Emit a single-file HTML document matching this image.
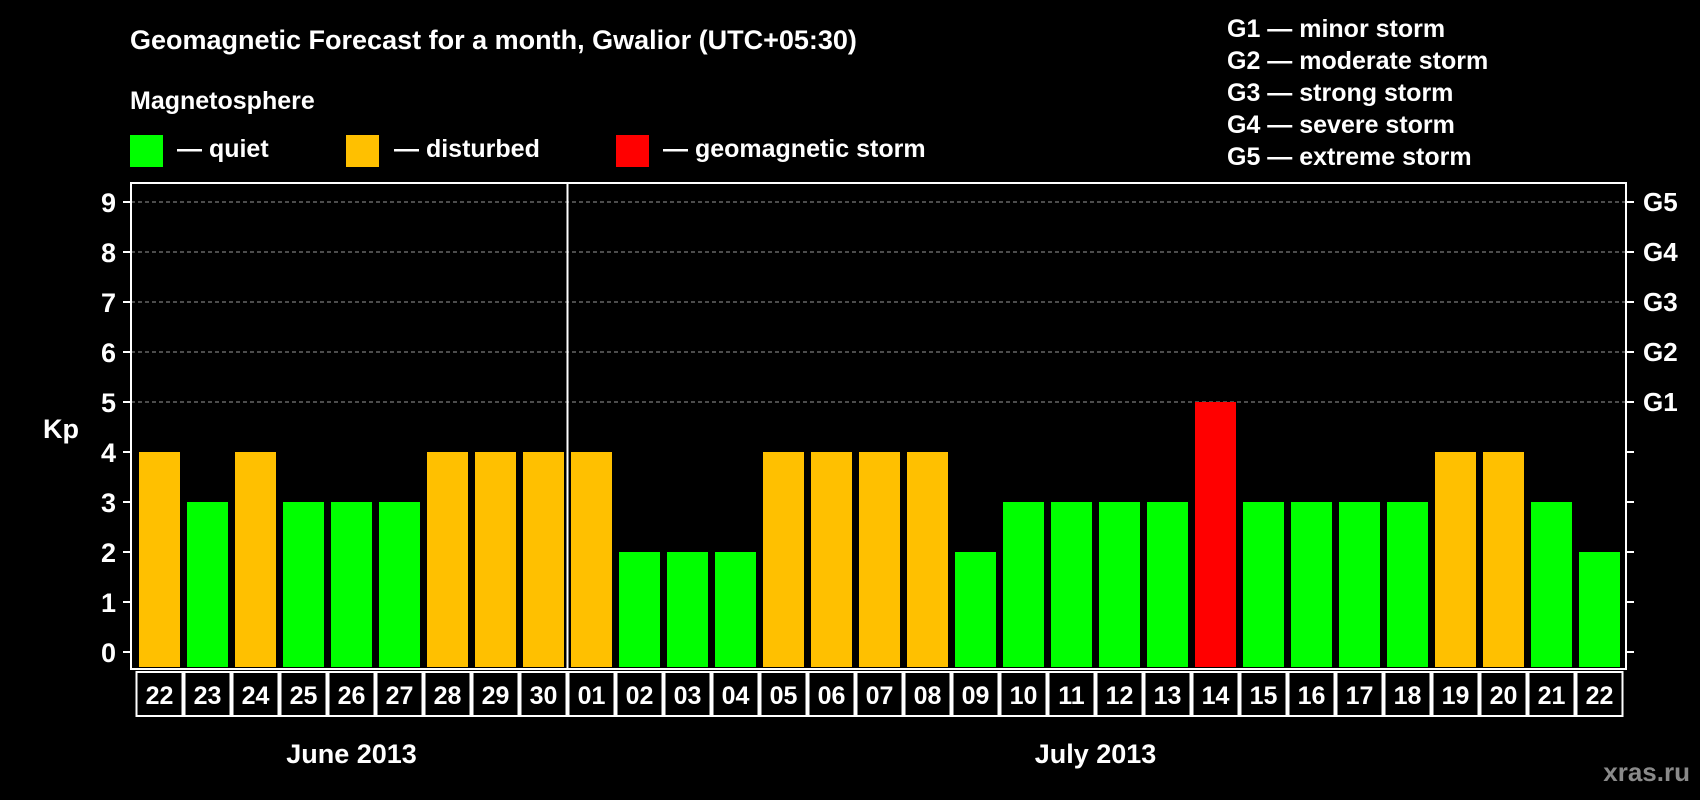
<!DOCTYPE html>
<html><head><meta charset="utf-8">
<style>
html,body{margin:0;padding:0;background:#000;}
svg{display:block;font-family:"Liberation Sans",Arial,sans-serif;font-weight:bold;}
</style></head>
<body>
<svg id="chart" width="1700" height="800" viewBox="0 0 1700 800" xmlns="http://www.w3.org/2000/svg">
<rect width="1700" height="800" fill="#000"/>
<text x="130" y="49" fill="#fff" font-size="27">Geomagnetic Forecast for a month, Gwalior (UTC+05:30)</text>
<text x="130" y="109" fill="#fff" font-size="25">Magnetosphere</text>
<g><rect x="130" y="135" width="33" height="32" fill="#00ff00"/><text x="177" y="157" fill="#fff" font-size="25">— quiet</text></g>
<g><rect x="346" y="135" width="33" height="32" fill="#ffc000"/><text x="394" y="157" fill="#fff" font-size="25">— disturbed</text></g>
<g><rect x="616" y="135" width="33" height="32" fill="#ff0000"/><text x="663" y="157" fill="#fff" font-size="25">— geomagnetic storm</text></g>
<g fill="#fff" font-size="25">
<text x="1227" y="37">G1 — minor storm</text>
<text x="1227" y="69">G2 — moderate storm</text>
<text x="1227" y="101">G3 — strong storm</text>
<text x="1227" y="133">G4 — severe storm</text>
<text x="1227" y="165">G5 — extreme storm</text>
</g>
<text x="43" y="438" fill="#fff" font-size="27">Kp</text>
<text x="1690" y="781" fill="#8a8a8a" font-size="26" text-anchor="end">xras.ru</text>
<g id="plot"></g>
</svg>
<script>
const days = ["22","23","24","25","26","27","28","29","30","01","02","03","04","05","06","07","08","09","10","11","12","13","14","15","16","17","18","19","20","21","22"];
const kpValues = [4,3,4,3,3,3,4,4,4,4,2,2,2,4,4,4,4,2,3,3,3,3,5,3,3,3,3,4,4,3,2];
const yTicks = [0,1,2,3,4,5,6,7,8,9];
const gLabels = ["G1","G2","G3","G4","G5"];
const monthLabels = ["June 2013","July 2013"];
const monthDayCounts = [9,22];

const NS="http://www.w3.org/2000/svg";
const plot=document.getElementById('plot');
const L=131,R=1626,T=183,B=669,slotX0=135.5,slot=48,barW=41;
const y=v=>652-50*v;
const x=i=>slotX0+i*slot;
function mk(tag,attrs,parent){const e=document.createElementNS(NS,tag);for(const k in attrs)e.setAttribute(k,attrs[k]);(parent||plot).appendChild(e);return e;}
function color(v){return v>=5?"#ff0000":(v>=4?"#ffc000":"#00ff00");}

// grid lines for G levels
gLabels.forEach((g,i)=>{
  const v=5+i;
  const ln=mk('line',{x1:L,x2:R,y1:y(v),y2:y(v),stroke:"#999","stroke-width":1,"stroke-dasharray":"4,3"});
  
  
  const t=mk('text',{x:1643,y:y(v)+9,fill:"#fff","font-size":26});
  t.textContent=g;
  
  
});
// y ticks
yTicks.forEach(v=>{
  mk('line',{x1:L-8,x2:L,y1:y(v),y2:y(v),stroke:"#fff","stroke-width":2});
  mk('line',{x1:R,x2:R+8,y1:y(v),y2:y(v),stroke:"#fff","stroke-width":2});
  const t=mk('text',{x:116,y:y(v)+10,fill:"#fff","font-size":27,"text-anchor":"end"});
  t.textContent=v;
  
  
});
// bars
kpValues.forEach((v,i)=>{
  const cx=x(i)+slot/2;
  const r=mk('rect',{x:cx-barW/2,y:y(v),width:barW,height:B-y(v)-2,fill:color(v)});
  
  
  // date box
  const bx=mk('rect',{x:x(i)+1,y:672,width:slot-2,height:44,fill:"#000",stroke:"#fff","stroke-width":2});
  
  
  const t=mk('text',{x:cx,y:704,fill:"#fff","font-size":25,"text-anchor":"middle"});
  t.textContent=days[i];
  
  
});
// plot frame
const fr=mk('rect',{x:L,y:T,width:R-L,height:B-T,fill:"none",stroke:"#fff","stroke-width":2});


// month divider and labels
let start=0;
monthLabels.forEach((m,k)=>{
  const n=monthDayCounts[k];
  if(k>0){
    const d=mk('line',{x1:x(start),x2:x(start),y1:T,y2:B,stroke:"#fff","stroke-width":2});
    
    
  }
  const cx=(x(start)+x(start+n))/2;
  const t=mk('text',{x:cx,y:763,fill:"#fff","font-size":27,"text-anchor":"middle"});
  t.textContent=m;
  
  
  start+=n;
});
</script>
</body></html>
